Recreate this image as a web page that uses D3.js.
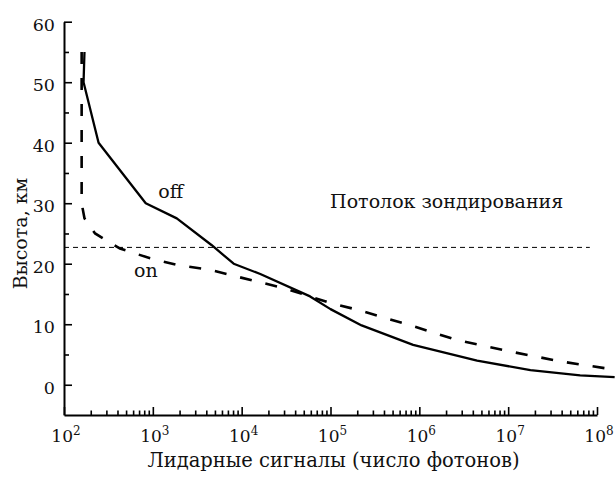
<!DOCTYPE html>
<meta charset="utf-8">
<style>
body { margin: 0; background: #fff; }
svg { display: block; background: #fff; }
.axis path, .axis line { stroke: #000; fill: none; }
.axis path { stroke-width: 2; }
.axis line { stroke-width: 1.6; }
text { font-family: "DejaVu Serif", serif; fill: #111; }
</style>
<svg width="615" height="477"></svg>
<script src="https://d3js.org/d3.v7.min.js"></script>
<script>

// lidar signal (photons) vs altitude, km
var offPhotons = [170, 166, 245, 832, 1860, 4570, 8130, 16200, 58900, 100000, 224000, 851000, 4470000, 17800000, 64600000, 158000000];
var offKm      = [55, 50, 40, 30, 27.5, 23.1, 20, 18.3, 14.6, 12.5, 9.8, 6.6, 4.0, 2.4, 1.55, 1.25];

var onPhotons = [158, 158, 170, 224, 427, 933, 1860, 4370, 13500, 29500, 100000, 200000, 724000, 2630000, 10500000, 38900000, 141000000, 160000000];
var onKm      = [55, 30, 27.5, 25, 22.5, 20.9, 19.8, 19, 17.2, 16, 13.5, 12.4, 10.0, 7.4, 5.5, 3.85, 2.6, 2.5];

var ceilingKm = 22.7;
var ceilingPhotons = [100, 83000000];

var yMajor = [0, 10, 20, 30, 40, 50, 60];
var yMinor = [5, 15, 25, 35, 45, 55];
var xExponents = [2, 3, 4, 5, 6, 7, 8];

var svg = d3.select("svg"),
    margin = {top: 21.7, right: 18, bottom: 62, left: 64},
    width = +svg.attr("width"),
    height = +svg.attr("height");

var x = d3.scaleLog()
    .domain([1e2, 1e8])
    .range([margin.left, width - margin.right]);

var y = d3.scaleLinear()
    .domain([-5, 60])
    .range([height - margin.bottom, margin.top]);

var xMinor = [];
xExponents.slice(0, -1).forEach(function(e) {
  for (var k = 2; k <= 9; k++) xMinor.push(k * Math.pow(10, e));
});

// minor ticks first, then the axes on top
svg.append("g")
    .attr("class", "axis")
    .attr("transform", "translate(0," + y(-5) + ")")
    .call(d3.axisBottom(x).tickValues(xMinor).tickSizeInner(-4.5).tickSizeOuter(0).tickFormat(""))
    .select(".domain").remove();

svg.append("g")
    .attr("class", "axis")
    .attr("transform", "translate(" + x(1e2) + ",0)")
    .call(d3.axisLeft(y).tickValues(yMinor).tickSizeInner(-5).tickSizeOuter(0).tickFormat(""))
    .select(".domain").remove();

svg.append("g")
    .attr("class", "axis")
    .attr("transform", "translate(0," + y(-5) + ")")
    .call(d3.axisBottom(x).tickValues(xExponents.map(function(e) { return Math.pow(10, e); }))
      .tickSizeInner(-8).tickSizeOuter(0).tickFormat(""));

var yAxis = svg.append("g")
    .attr("class", "axis")
    .attr("transform", "translate(" + x(1e2) + ",0)")
    .call(d3.axisLeft(y).tickValues(yMajor).tickSizeInner(-8).tickSizeOuter(0).tickPadding(9));

yAxis.selectAll("text")
    .style("font-family", "DejaVu Serif")
    .style("font-size", "17.5px")
    .attr("dy", "0.5em")
    .attr("fill", "#111");

// x tick labels 10^n
var xl = svg.append("g").selectAll("text")
    .data(xExponents)
  .enter().append("text")
    .attr("x", function(e) { return x(Math.pow(10, e)) + 2; })
    .attr("y", y(-5) + 27)
    .attr("text-anchor", "middle")
    .style("font-size", "17px");
xl.append("tspan").text("10");
xl.append("tspan")
    .attr("dy", -7)
    .style("font-size", "12px")
    .text(function(e) { return e; });

// sounding ceiling
svg.append("line")
    .attr("x1", x(ceilingPhotons[0]))
    .attr("x2", x(ceilingPhotons[1]))
    .attr("y1", y(ceilingKm))
    .attr("y2", y(ceilingKm))
    .attr("stroke", "#000")
    .attr("stroke-width", 1)
    .attr("stroke-dasharray", "5,4");

var line = d3.line()
    .x(function(d) { return x(d[0]); })
    .y(function(d) { return y(d[1]); });

svg.append("path")
    .datum(d3.zip(offPhotons, offKm))
    .attr("d", line)
    .attr("fill", "none")
    .attr("stroke", "#000")
    .attr("stroke-width", 2.3)
    .attr("stroke-linejoin", "round");

svg.append("path")
    .datum(d3.zip(onPhotons, onKm))
    .attr("d", line)
    .attr("fill", "none")
    .attr("stroke", "#000")
    .attr("stroke-width", 2.6)
    .attr("stroke-dasharray", "12,14");

// labels
svg.append("text")
    .attr("x", x(1150)).attr("y", y(30.8))
    .style("font-size", "19px")
    .text("off");

svg.append("text")
    .attr("x", x(614)).attr("y", y(17.8))
    .style("font-size", "19px")
    .text("on");

svg.append("text")
    .attr("x", x(99000)).attr("y", y(29.2))
    .style("font-size", "19px")
    .text("Потолок зондирования");

svg.append("text")
    .attr("transform", "translate(27," + y(25) + ") rotate(-90)")
    .attr("text-anchor", "middle")
    .style("font-size", "19px")
    .text("Высота, км");

svg.append("text")
    .attr("x", (x(1e2) + x(1e8)) / 2 + 3)
    .attr("y", 467)
    .attr("text-anchor", "middle")
    .style("font-size", "19.5px")
    .text("Лидарные сигналы (число фотонов)");

</script>
